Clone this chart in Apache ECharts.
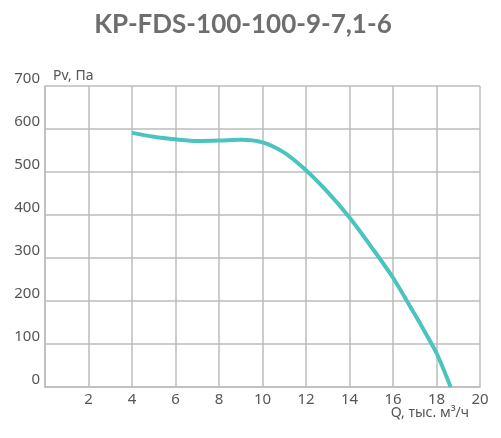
<!DOCTYPE html>
<html>
<head>
<meta charset="utf-8">
<script src="https://cdn.jsdelivr.net/npm/echarts@6/dist/echarts.min.js"></script>
<style>
  html, body { margin: 0; padding: 0; background: #fff; }
  #chart { width: 501px; height: 438px; }
</style>
</head>
<body>
<div id="chart"></div>
<script>
// расход, тыс. м3/ч
const flowQ = [4, 5, 6, 7, 8, 9, 10, 11, 12, 13, 14, 15, 16, 17, 17.5, 18, 18.65];
// давление Pv, Па
const pressurePv = [591, 582, 576, 572, 573, 575, 569, 545, 504, 453, 394, 326, 254, 169, 125, 79, 0];

const chartTitle = 'KP-FDS-100-100-9-7,1-6';
const xName = 'Q, тыс. м³/ч';
const yName = 'Pv, Па';

const gridColor = '#bdbdbd';
const textColor = '#555';

let chart = echarts.init(document.getElementById('chart'));

let points = flowQ.map(function(q, i) {
    return [q, pressurePv[i]];
});

chart.setOption({
    animation: false,
    title: {
        text: chartTitle,
        left: 238,
        top: 7,
        textAlign: 'center',
        textStyle: {
            color: '#6e6e6e',
            fontFamily: 'Lato',
            fontWeight: 'bold',
            fontSize: 26
        }
    },
    // подпись оси X
    graphic: [
        {
            type: 'text',
            right: 32,
            top: 406,
            style: {
                text: xName,
                fill: textColor,
                font: '14px "Noto Sans"'
            }
        }
    ],
    grid: {
        left: 45,
        right: 21,
        top: 86,
        bottom: 51,
        containLabel: false,
        outerBoundsMode: 'none'
    },
    xAxis: {
        type: 'value',
        min: 0,
        max: 20,
        interval: 2,
        axisLine: { show: true, lineStyle: { color: gridColor, width: 1.5 } },
        axisTick: { show: false },
        splitLine: { show: true, lineStyle: { color: gridColor, width: 1.5 } },
        axisLabel: {
            color: textColor,
            fontFamily: 'Noto Sans',
            fontSize: 15,
            margin: 5,
            formatter: function(v) { return v === 0 ? '' : v; }
        }
    },
    yAxis: {
        type: 'value',
        min: 0,
        max: 700,
        interval: 100,
        name: yName,
        nameLocation: 'end',
        nameGap: 3,
        nameTextStyle: {
            color: textColor,
            fontFamily: 'Noto Sans',
            fontSize: 14,
            align: 'left',
            padding: [0, 0, 0, 8]
        },
        axisLine: { show: true, lineStyle: { color: gridColor, width: 1.5 } },
        axisTick: { show: false },
        splitLine: { show: true, lineStyle: { color: gridColor, width: 1.5 } },
        axisLabel: {
            color: textColor,
            fontFamily: 'Noto Sans',
            fontSize: 15,
            margin: 5,
            verticalAlign: 'bottom',
            lineHeight: 14
        }
    },
    series: [
        {
            type: 'line',
            data: points,
            smooth: 0.3,
            symbol: 'none',
            lineStyle: { color: '#4bc3bf', width: 4 }
        }
    ]
});
</script>
</body>
</html>
